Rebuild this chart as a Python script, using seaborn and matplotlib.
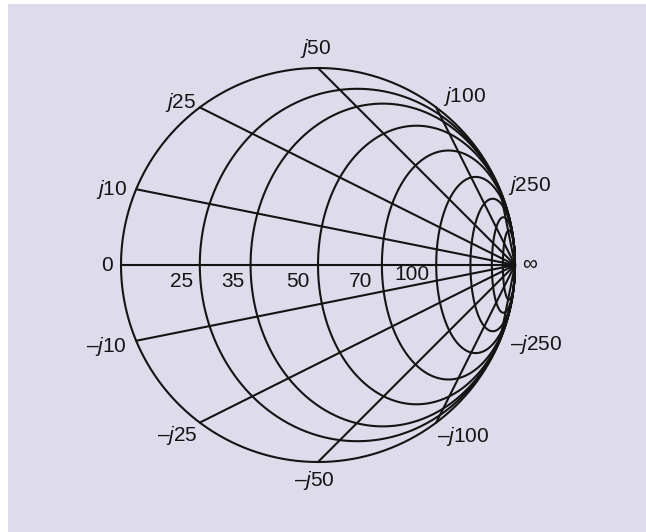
import numpy as np
import pandas as pd
import matplotlib
matplotlib.use("Agg")
import matplotlib.pyplot as plt
from matplotlib.patches import Rectangle
import seaborn as sns

# Reference impedance and grid values (ohms)
z0 = 50.0
resistances = [25, 35, 50, 70, 100, 140, 200, 280]
reactances = [10, 25, 50, 100, 250]
resistance_labels = ["25", "35", "50", "70", "100"]

sns.set_theme(style="white")
plt.rcParams["font.family"] = ["Liberation Sans", "DejaVu Sans"]
plt.rcParams["mathtext.fontset"] = "custom"
plt.rcParams["mathtext.it"] = "Liberation Sans:italic"
plt.rcParams["mathtext.rm"] = "Liberation Sans"

BG = "#dedbeb"
INK = "#141414"


def klein(gamma):
    """Map reflection coefficient (Poincare disk) to the Klein disk,
    where constant-reactance arcs become straight chords."""
    return 2 * gamma / (1 + np.abs(gamma) ** 2)


rows = []
theta = np.linspace(0, 2 * np.pi, 721)

# outer boundary (R = 0)
g = np.exp(1j * theta)
k = klein(g)
rows += [("R0", a, b) for a, b in zip(k.real, k.imag)]

# constant-resistance curves
for R in resistances:
    r = R / z0
    g = r / (r + 1) + np.exp(1j * theta) / (r + 1)
    k = klein(g)
    rows += [(f"R{R}", a, b) for a, b in zip(k.real, k.imag)]

# constant-reactance curves (both signs) and the real axis
rr = np.concatenate([[0.0], np.geomspace(1e-4, 1e6, 300)])
for X in [0] + reactances + [-x for x in reactances]:
    z = rr + 1j * X / z0
    g = (z - 1) / (z + 1)
    k = klein(g)
    rows += [(f"X{X}", a, b) for a, b in zip(k.real, k.imag)]

df = pd.DataFrame(rows, columns=["curve", "x", "y"])

fig = plt.figure(figsize=(6.46, 5.32), dpi=100)
fig.patch.set_facecolor("white")
ax = fig.add_axes([0, 0, 1, 1])
ax.set_facecolor("none")
ax.set_zorder(2)
bg = Rectangle((8 / 646, 0), 1, 528 / 532, transform=fig.transFigure,
               facecolor=BG, edgecolor="none", zorder=-10)
fig.patches.append(bg)

sns.lineplot(data=df, x="x", y="y", units="curve", estimator=None, sort=False,
             color=INK, linewidth=1.5, ax=ax, legend=False)

scale = 197.0
ax.set_xlim(-318 / scale, 328 / scale)
ax.set_ylim(-267 / scale, 265 / scale)
ax.set_axis_off()

fs = 15

# end labels of the real axis
ax.annotate("0", (-1, 0), xytext=(-8, -1), textcoords="offset pixels",
            ha="right", va="center", fontsize=fs, color=INK)
ax.annotate("\u221e", (1, 0), xytext=(7, 0), textcoords="offset pixels",
            ha="left", va="center", fontsize=fs, color=INK)

# resistance labels just left of each crossing of the real axis
res_offsets = {"25": (-7, -17), "35": (-6, -17), "50": (-8, -17),
               "70": (-10, -17), "100": (-7, -10)}
for R, lab in zip(resistances, resistance_labels):
    r = R / z0
    x0 = klein(np.array([(r - 1) / (r + 1)]))[0].real
    dx, dy = res_offsets[lab]
    ax.annotate(lab, (x0, 0), xytext=(dx, dy), textcoords="offset pixels",
                ha="right", va="center", fontsize=fs, color=INK)

# reactance labels at the rim
react_style = {
    10: ("right", (-9, 0)), 25: ("right", (-3, 5)), 50: ("center", (-2, 19)),
    100: ("left", (7, 11)), 250: ("left", (8, 4)),
    -10: ("right", (-9, -6)), -25: ("right", (-2, -13)), -50: ("center", (-4, -19)),
    -100: ("left", (1, -14)), -250: ("left", (10, -4)),
}
for X in reactances + [-x for x in reactances]:
    z = 1j * X / z0
    g = (z - 1) / (z + 1)
    ha, (dx, dy) = react_style[X]
    sign = "" if X > 0 else "\u2013"
    lab = sign + r"$\mathit{j}$" + str(abs(X))
    ax.annotate(lab, (g.real, g.imag), xytext=(dx, dy), textcoords="offset pixels",
                ha=ha, va="center", fontsize=fs, color=INK)

fig.savefig("out.png", dpi=100, facecolor=fig.get_facecolor())
